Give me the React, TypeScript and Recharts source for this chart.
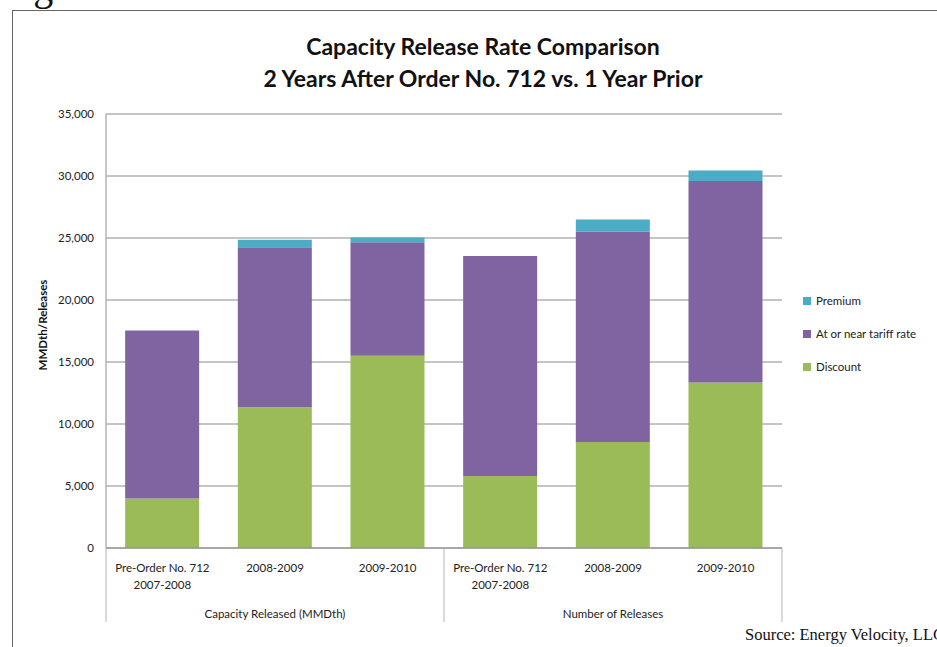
import React from "react";
import { BarChart, Bar, XAxis, YAxis, CartesianGrid } from "recharts";

const periods = [
  "Pre-Order No. 712|2007-2008",
  "2008-2009",
  "2009-2010",
  "Pre-Order No. 712|2007-2008",
  "2008-2009",
  "2009-2010",
];
const groups = ["Capacity Released (MMDth)", "Number of Releases"];
const discount = [4000, 11350, 15500, 5800, 8550, 13350];
const tariffRate = [13550, 12900, 9150, 17750, 16950, 16250];
const premium = [0, 600, 400, 0, 1000, 850];
const yTicks = [0, 5000, 10000, 15000, 20000, 25000, 30000, 35000];

// stacked bottom-to-top; legend lists them top-to-bottom
const series = [
  { key: "discount", name: "Discount", color: "#9BBB59" },
  { key: "tariff", name: "At or near tariff rate", color: "#8064A2" },
  { key: "premium", name: "Premium", color: "#4BACC6" },
];

const rows = periods.map((p, i) => ({
  key: `${i}`,
  label: p,
  discount: discount[i],
  tariff: tariffRate[i],
  premium: premium[i],
}));

const FONT = "Lato, 'Open Sans', sans-serif";
const W = 937;
const H = 647;
const PLOT_LEFT = 106;
const PLOT_RIGHT = 782;
const BAND = (PLOT_RIGHT - PLOT_LEFT) / periods.length;
const GRID_GRAY = "#8a8a8a";
const AXIS_LIGHT = "#b4b4b4";

const fmt = (v: number) => v.toLocaleString("en-US");

function CategoryTick(props: any) {
  const { x, index } = props;
  const y = 548; // baseline of the plot
  const lines = periods[index].split("|");
  const perGroup = periods.length / groups.length;
  const inGroup = index % perGroup;
  return (
    <g>
      {lines.map((l, k) => (
        <text
          key={k}
          x={x}
          y={y + 24 + k * 17}
          textAnchor="middle"
          fontSize={11.5}
          fontFamily={FONT}
          fill="#222"
        >
          {l}
        </text>
      ))}
      {inGroup === 0 && (
        <>
          <line x1={x - BAND / 2} x2={x - BAND / 2} y1={y} y2={y + 74} stroke={AXIS_LIGHT} />
          <text
            x={x + BAND}
            y={y + 70}
            textAnchor="middle"
            fontSize={11.5}
            fontFamily={FONT}
            fill="#222"
          >
            {groups[Math.floor(index / perGroup)]}
          </text>
        </>
      )}
      {index === periods.length - 1 && (
        <line x1={x + BAND / 2} x2={x + BAND / 2} y1={y} y2={y + 74} stroke={AXIS_LIGHT} />
      )}
    </g>
  );
}

export default function App() {
  return (
    <div
      style={{
        position: "absolute",
        left: 0,
        top: 0,
        width: W,
        height: H,
        overflow: "hidden",
        background: "#fff",
      }}
    >
      <div
        style={{
          position: "absolute",
          left: 0,
          top: -36,
          fontFamily: "'Liberation Serif', 'DejaVu Serif', serif",
          fontSize: 40,
          lineHeight: "46px",
          color: "#111",
        }}
      >
        Figure 2
      </div>
      <div
        style={{
          position: "absolute",
          left: 12,
          top: 10,
          width: W,
          height: H,
          borderLeft: "1px solid #666",
          borderTop: "1px solid #666",
        }}
      />
      <div
        style={{
          position: "absolute",
          left: 0,
          width: 966,
          top: 30,
          textAlign: "center",
          fontFamily: FONT,
          fontWeight: 700,
          fontSize: 23,
          lineHeight: "32px",
          color: "#111",
        }}
      >
        <div>Capacity Release Rate Comparison</div>
        <div>2 Years After Order No. 712 vs. 1 Year Prior</div>
      </div>
      <div
        style={{
          position: "absolute",
          left: 42,
          top: 325,
          transform: "translate(-50%, -50%) rotate(-90deg)",
          fontFamily: FONT,
          fontWeight: 700,
          fontSize: 11.5,
          color: "#111",
          whiteSpace: "nowrap",
        }}
      >
        MMDth/Releases
      </div>
      <div style={{ position: "absolute", left: 0, top: 0 }}>
        <BarChart
          width={W}
          height={H}
          data={rows}
          margin={{ top: 114, right: W - PLOT_RIGHT, bottom: 24, left: 0 }}
          barCategoryGap="17%"
        >
          <CartesianGrid vertical={false} stroke={GRID_GRAY} strokeOpacity={1} />
          <XAxis
            dataKey="key"
            tick={<CategoryTick />}
            tickLine={false}
            axisLine={{ stroke: GRID_GRAY }}
            height={75}
            interval={0}
          />
          <YAxis
            domain={[0, 35000]}
            ticks={yTicks}
            tickFormatter={fmt}
            width={PLOT_LEFT}
            tick={{ fontSize: 11.5, fontFamily: FONT, fill: "#222" }}
            tickLine={false}
            tickSize={6}
            tickMargin={6}
            axisLine={{ stroke: AXIS_LIGHT, strokeWidth: 1.5 }}
          />
          {series.map((s) => (
            <Bar
              key={s.key}
              dataKey={s.key}
              name={s.name}
              stackId="s"
              fill={s.color}
              isAnimationActive={false}
            />
          ))}
        </BarChart>
      </div>
      <div
        style={{
          position: "absolute",
          left: 803,
          top: 284,
          fontFamily: FONT,
          fontSize: 11.5,
          color: "#222",
        }}
      >
        {[...series].reverse().map((s) => (
          <div key={s.key} style={{ display: "flex", alignItems: "center", height: 33 }}>
            <span
              style={{
                width: 8,
                height: 8,
                background: s.color,
                marginRight: 5,
                display: "inline-block",
              }}
            />
            {s.name}
          </div>
        ))}
      </div>
      <div
        style={{
          position: "absolute",
          left: 745,
          top: 625,
          fontFamily: "'Liberation Serif', 'DejaVu Serif', serif",
          fontSize: 16.5,
          whiteSpace: "nowrap",
          color: "#111",
        }}
      >
        Source: Energy Velocity, LLC
      </div>
    </div>
  );
}
